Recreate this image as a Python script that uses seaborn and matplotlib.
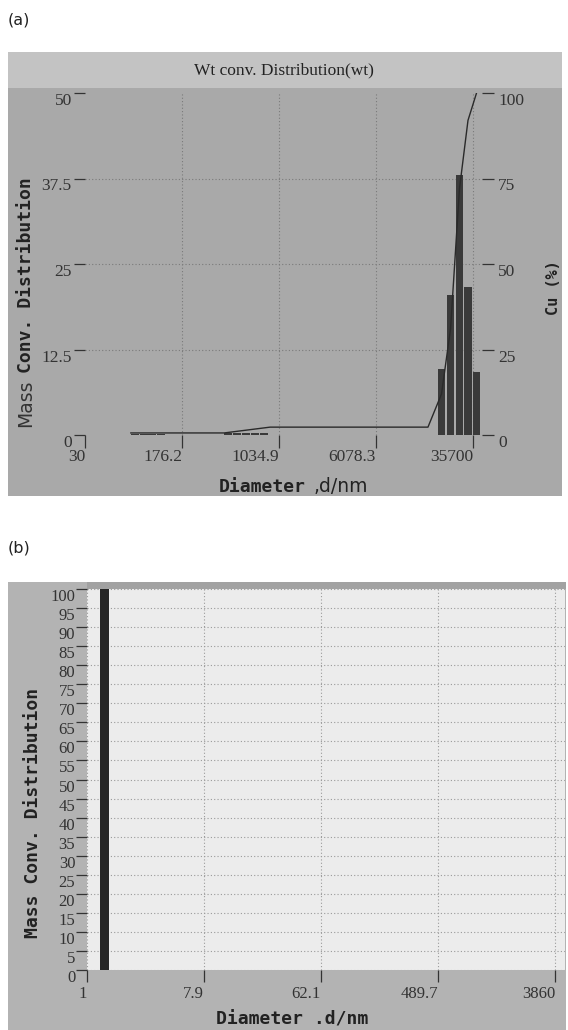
import numpy as np
import matplotlib
matplotlib.use("Agg")
import matplotlib.pyplot as plt
import matplotlib.ticker as mticker
from matplotlib.patches import Rectangle
import seaborn as sns

# ---------------- data: panel (a) ----------------
a_bar_diam = [74.5, 88, 102, 120, 409, 482, 569, 671, 790,
              20100, 23700, 27900, 32600, 38100]
a_bar_mass = [0.15, 0.2, 0.15, 0.15, 0.3, 0.35, 0.35, 0.3, 0.3,
              9.7, 20.4, 38.0, 21.6, 9.2]
a_cum_diam = [69, 380, 880, 15700, 20100, 23700, 27900, 32600, 38100]
a_cum_pct = [0.6, 0.6, 2.3, 2.3, 12, 31, 72, 92, 100]
a_xticks = [30, 176.2, 1034.9, 6078.3, 35700]
a_xticklabels = ["30", "176.2", "1034.9", "6078.3", "35700"]
a_yticks = [0, 12.5, 25, 37.5, 50]
a_yticklabels = ["0", "12.5", "25", "37.5", "50"]
a_cu_ticks = [0, 25, 50, 75, 100]
a_cu_labels = ["0", "25", "50", "75", "100"]

# ---------------- data: panel (b) ----------------
b_bar_diam = [1.36]
b_bar_mass = [100]
b_xticks = [1, 7.9, 62.1, 489.7, 3860]
b_xticklabels = ["1", "7.9", "62.1", "489.7", "3860"]
b_yticks = [0, 5, 10, 15, 20, 25, 30, 35, 40, 45, 50,
            55, 60, 65, 70, 75, 80, 85, 90, 95, 100]
b_yticklabels = [str(v) for v in b_yticks]

# ---------------- style ----------------
sns.set_theme(style="white")
plt.rcParams["font.family"] = ["Liberation Serif", "DejaVu Serif"]
plt.rcParams["text.color"] = "#222222"
plt.rcParams["axes.labelcolor"] = "#222222"
plt.rcParams["xtick.color"] = "#333333"
plt.rcParams["ytick.color"] = "#333333"

W, H = 568, 1030
fig = plt.figure(figsize=(W / 100, H / 100), dpi=100, facecolor="white")


def fx(px):
    return px / W


def fy(py):
    return 1 - py / H


def rect(x0, y0, x1, y1, color):
    fig.add_artist(Rectangle((fx(x0), fy(y1)), (x1 - x0) / W, (y1 - y0) / H,
                             transform=fig.transFigure, facecolor=color,
                             edgecolor="none", zorder=-10))


def log_bars(ax, centers, heights, w, color):
    c = np.asarray(centers, float)
    left = c * 10 ** (-w / 2)
    width = c * (10 ** (w / 2) - 10 ** (-w / 2))
    ax.bar(left, heights, width=width, align="edge", color=color,
           linewidth=0, zorder=3)


renderer = fig.canvas.get_renderer()


def mixed(pieces, cx, cy, gap, rotation=0):
    ws = []
    for s, kw in pieces:
        t = fig.text(0, 0, s, **kw)
        ws.append(t.get_window_extent(renderer).width)
        t.remove()
    total = sum(ws) + gap * (len(ws) - 1)
    pos = -total / 2
    for (s, kw), w in zip(pieces, ws):
        if rotation == 0:
            fig.text(fx(cx + pos), fy(cy), s, ha="left", va="baseline", **kw)
        else:
            fig.text(fx(cx), fy(cy - pos), s, ha="left", va="baseline",
                     rotation=90, rotation_mode="anchor", **kw)
        pos += w + gap


# ---------------- panel backgrounds ----------------
rect(8, 52, 562, 496, "#a9a9a9")
rect(8, 52, 562, 88, "#c3c3c3")
rect(8, 582, 566, 1030, "#b3b3b3")
rect(87, 582, 566, 589, "#a2a2a2")

sans = dict(family="DejaVu Sans")
mono_b = dict(family="DejaVu Sans Mono", weight="bold")

fig.text(fx(8), fy(20), "(a)", ha="left", va="center", fontsize=11.5, **sans)
fig.text(fx(8), fy(548), "(b)", ha="left", va="center", fontsize=11.5, **sans)

# ---------------- panel (a) ----------------
ax_a = fig.add_axes([fx(85), fy(435), (482 - 85) / W, (435 - 93) / H])
ax_a.set_facecolor("none")
ax_a.set_xscale("log")
log_bars(ax_a, a_bar_diam, a_bar_mass, 0.06, "#3a3a3a")
ax_a.set_xlim(30, 42100)
ax_a.set_ylim(0, 50)
ax_a.set_xticks(a_xticks)
ax_a.set_xticklabels(a_xticklabels)
ax_a.xaxis.set_minor_locator(mticker.NullLocator())
ax_a.set_yticks(a_yticks)
ax_a.set_yticklabels(a_yticklabels)
ax_a.grid(True, ls=(0, (1, 2)), color="#7a7a7a", lw=0.8, zorder=1)
ax_a.set_axisbelow(True)
for s in ax_a.spines.values():
    s.set_visible(False)
ax_a.tick_params(axis="x", which="major", bottom=True, direction="out",
                 length=9.4, width=0.9, pad=1.0, labelsize=12.5)
ax_a.tick_params(axis="y", which="major", left=True, direction="out",
                 length=8, width=0.9, pad=1.5, labelsize=12.5)
for lab in ax_a.get_xticklabels():
    lab.set_ha("right")
for lab in ax_a.get_yticklabels():
    lab.set_va("top")
gl = ax_a.yaxis.get_gridlines()
gl[0].set_visible(False)
gl[-1].set_visible(False)
gx = ax_a.xaxis.get_gridlines()
gx[0].set_visible(False)

ax2 = ax_a.twinx()
sns.lineplot(x=a_cum_diam, y=a_cum_pct, ax=ax2, color="#2a2a2a", lw=1.0,
             zorder=4)
ax2.set_ylim(0, 100)
ax2.set_xlim(30, 42100)
ax2.set_ylabel("")
ax2.set_yticks(a_cu_ticks)
ax2.set_yticklabels(a_cu_labels)
ax2.grid(False)
for s in ax2.spines.values():
    s.set_visible(False)
ax2.tick_params(axis="y", which="major", right=True, direction="out",
                length=8.6, width=0.9, pad=3, labelsize=12.5)
for lab in ax2.get_yticklabels():
    lab.set_va("top")

fig.text(fx(284), fy(70), "Wt conv. Distribution(wt)", ha="center",
         va="center", fontsize=12.5, family="Liberation Serif")
mixed([("Mass", dict(fontsize=13.5, color="#333333", **sans)),
       ("Conv. Distribution", dict(fontsize=13, color="#222222", **mono_b))],
      31, 302, 7, rotation=90)
mixed([("Diameter", dict(fontsize=13, color="#222222", **mono_b)),
       (",d/nm", dict(fontsize=13.5, color="#222222", **sans))],
      293, 492, 8)
fig.text(fx(553), fy(288), "Cu (%)", rotation=90, ha="center", va="center",
         fontsize=11, **mono_b)

# ---------------- panel (b) ----------------
ax_b = fig.add_axes([fx(87), fy(970), (565 - 87) / W, (970 - 589) / H])
ax_b.set_facecolor("#ececec")
ax_b.set_xscale("log")
log_bars(ax_b, b_bar_diam, b_bar_mass, 0.069, "#262626")
ax_b.set_xlim(1, 4610)
ax_b.set_ylim(0, 100)
ax_b.set_xticks(b_xticks)
ax_b.set_xticklabels(b_xticklabels)
ax_b.xaxis.set_minor_locator(mticker.NullLocator())
ax_b.set_yticks(b_yticks)
ax_b.set_yticklabels(b_yticklabels)
ax_b.grid(True, ls=(0, (1, 2)), color="#9a9a9a", lw=0.8)
ax_b.set_axisbelow(True)
for s in ax_b.spines.values():
    s.set_visible(False)
ax_b.tick_params(axis="x", which="major", bottom=True, direction="out",
                 length=8.6, width=0.9, pad=3, labelsize=12)
ax_b.tick_params(axis="y", which="major", left=True, direction="out",
                 length=8, width=0.9, pad=0.5, labelsize=12)
for lab in ax_b.get_xticklabels():
    lab.set_ha("right")
for lab in ax_b.get_yticklabels():
    lab.set_va("top")

fig.text(fx(33), fy(813), "Mass Conv. Distribution", rotation=90,
         ha="center", va="center", fontsize=13, **mono_b)
fig.text(fx(292), fy(1020), "Diameter .d/nm", ha="center", va="center",
         fontsize=13, **mono_b)

fig.savefig("out.png", dpi=100, facecolor="white")
